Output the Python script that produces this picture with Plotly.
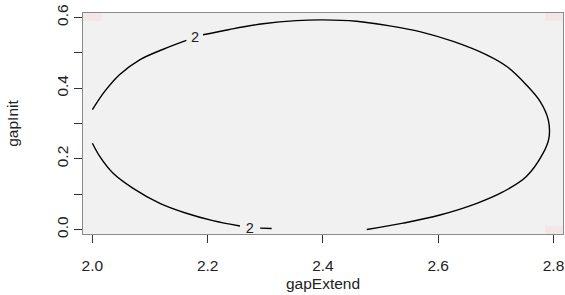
import plotly.graph_objects as go

# Contour level "2" (None separates pieces / label gaps)
contour_x = [2.000, 2.021, 2.047, 2.082, 2.123, 2.163, None,
             2.192, 2.238, 2.296, 2.354, 2.400, 2.458, 2.516, 2.568, 2.626, 2.684,
             2.719, 2.753, 2.777, 2.791, 2.792, 2.782, 2.753, 2.713, 2.667, 2.603,
             2.539, 2.476, None,
             2.000, 2.013, 2.036, 2.070, 2.117, 2.163, 2.209, 2.256, None,
             2.291, 2.311]
contour_y = [0.339, 0.390, 0.438, 0.480, 0.510, 0.535, None,
             0.551, 0.566, 0.582, 0.591, 0.593, 0.589, 0.576, 0.560, 0.532, 0.494,
             0.461, 0.409, 0.362, 0.310, 0.258, 0.216, 0.150, 0.107, 0.074, 0.041,
             0.018, 0.000, None,
             0.244, 0.206, 0.159, 0.117, 0.074, 0.046, 0.025, 0.010, None,
             0.004, 0.003]

label_x = [2.178, 2.273]
label_y = [0.540, 0.001]
label_text = ["2", "2"]

# background image cells (edges) and values
img_x_edges = [1.984, 2.016, 2.785, 2.817]
img_y_edges = [-0.013, 0.011, 0.589, 0.613]
img_z = [[0, 0, 1],
         [0, 0, 0],
         [1, 0, 1]]

x_ticks = [2.0, 2.2, 2.4, 2.6, 2.8]
y_ticks = [0.0, 0.2, 0.4, 0.6]

fig = go.Figure()
fig.add_trace(go.Heatmap(x=img_x_edges, y=img_y_edges, z=img_z,
                         colorscale=[[0, "#f1f1f1"], [1, "#f4e5e7"]],
                         showscale=False, hoverinfo="skip"))
fig.add_trace(go.Scatter(x=contour_x, y=contour_y, mode="lines",
                         line=dict(color="black", width=1.4, shape="spline"),
                         connectgaps=False, showlegend=False, hoverinfo="skip"))
fig.add_trace(go.Scatter(x=label_x, y=label_y, mode="text", text=label_text,
                         textfont=dict(family="Liberation Sans, Arial", size=14.5, color="#222"),
                         showlegend=False, hoverinfo="skip"))

font = dict(family="Liberation Sans, Arial", size=15.5, color="#222")
fig.update_layout(
    width=565, height=295,
    margin=dict(l=83, r=2, t=13, b=61),
    paper_bgcolor="white", plot_bgcolor="#f1f1f1",
    font=font,
    xaxis=dict(range=[1.9837, 2.8165], tickvals=x_ticks,
               ticktext=[f"{v:.1f}" for v in x_ticks],
               ticks="outside", ticklen=8, tickcolor="#333", tickwidth=1,
               ticklabeloverflow="allow", ticklabelstandoff=9,
               showline=True, linecolor="#8a8a8a", linewidth=1, mirror=True,
               showgrid=False, zeroline=False, automargin=False,
               title=dict(text="gapExtend", font=font, standoff=5)),
    yaxis=dict(range=[-0.0127, 0.6125], tickvals=y_ticks,
               ticktext=[f"{v:.1f}" for v in y_ticks],
               tickangle=-90, ticklabelstandoff=0,
               ticks="outside", ticklen=8, tickcolor="#333", tickwidth=1,
               ticklabeloverflow="allow",
               minor=dict(dtick=0.1, tick0=0, ticks="outside", ticklen=8,
                          tickcolor="#333", tickwidth=1, showgrid=False),
               showline=True, linecolor="#8a8a8a", linewidth=1, mirror=True,
               showgrid=False, zeroline=False, automargin=False,
               title=dict(text="gapInit", font=font, standoff=31)),
)
fig.write_html("out.html", config={"displayModeBar": False},
               post_script="document.body.style.margin='0';document.body.style.overflow='hidden';")
